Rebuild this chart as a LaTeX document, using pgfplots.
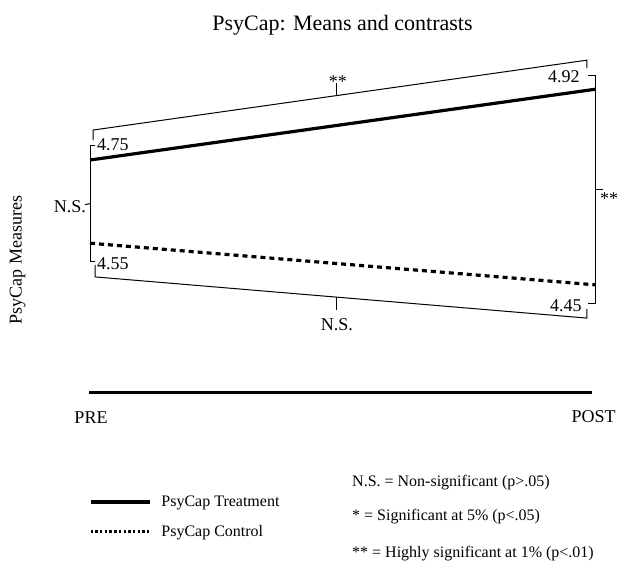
\documentclass[border=0pt]{standalone}
\usepackage{fontspec}
\setmainfont{Liberation Serif}
\usepackage{pgfplots}
\pgfplotsset{compat=1.18}
\newcommand\lab{\fontsize{18bp}{21bp}\selectfont}
\newcommand\leg{\fontsize{16bp}{19bp}\selectfont}
\newcommand\ttl{\fontsize{22bp}{26bp}\selectfont}
\begin{document}
\begin{tikzpicture}
\useasboundingbox (0,0) rectangle (618bp,-566bp);
\begin{axis}[
  at={(90bp,-409.6bp)}, anchor=south west,
  scale only axis, width=505bp, height=374.4bp,
  xmin=0, xmax=1, ymin=4.15, ymax=5.05,
  axis lines=none, clip=false,
  legend style={at={(axis description cs:-0.002,-0.2308)}, anchor=north west,
    draw=none, fill=none, inner sep=0pt, outer sep=0pt, row sep=17.5bp,
    font=\leg, nodes={inner sep=0pt},
    /tikz/every odd column/.append style={column sep=10bp}},
  legend cell align=left,
  br/.style={black, line width=1bp, forget plot},
]
% data
\addplot[black, line width=3.2bp,
  legend image code/.code={\draw[black, line width=3.4bp] (0bp,0bp) -- (59bp,0bp);}]
  coordinates {(0,4.75) (1,4.92)};
\addlegendentry{PsyCap Treatment}
\addplot[black, line width=3.2bp, dash pattern=on 5bp off 4bp,
  legend image code/.code={\draw[black, line width=3bp, dash pattern=on 2.4bp off 2.3bp] (0bp,0bp) -- (59bp,0bp);}]
  coordinates {(0,4.55) (1,4.45)};
\addlegendentry{PsyCap Control}
% x axis line
\addplot[black, line width=3bp, forget plot] coordinates {(-0.002,4.1923) (0.994,4.1923)};
% upper bracket
\addplot[br] coordinates {(0.006,4.798) (0.006,4.822) (0.984,4.990) (0.984,4.971)};
\addplot[br] coordinates {(0.489,4.905) (0.489,4.935)};
% lower bracket
\addplot[br] coordinates {(0.0099,4.498) (0.0099,4.469) (0.984,4.370) (0.984,4.392)};
\addplot[br] coordinates {(0.489,4.420) (0.489,4.389)};
% left vertical bracket
\addplot[br] coordinates {(0.0099,4.786) (0,4.786) (0,4.505) (0.0099,4.505)};
\addplot[br] coordinates {(0,4.645) (-0.0099,4.643)};
% right vertical bracket
\addplot[br] coordinates {(0.986,4.954) (1,4.954) (1,4.404) (0.986,4.404)};
\addplot[br] coordinates {(1,4.678) (1.0158,4.678)};
% value labels
\node[anchor=base west, inner sep=0pt, font=\lab] at (axis cs:0.0139,4.774) {4.75};
\node[anchor=base west, inner sep=0pt, font=\lab] at (axis cs:0.0139,4.486) {4.55};
\node[anchor=base east, inner sep=0pt, font=\lab] at (axis cs:0.970,4.936) {4.92};
\node[anchor=base east, inner sep=0pt, font=\lab] at (axis cs:0.974,4.385) {4.45};
% significance labels
\node[anchor=base, inner sep=0pt, font=\lab] at (axis cs:0.491,4.925) {**};
\node[anchor=base, inner sep=0pt, font=\lab] at (axis cs:0.489,4.341) {N.S.};
\node[anchor=east, inner sep=0pt, font=\lab] at (axis cs:-0.0079,4.639) {N.S.};
\node[anchor=base west, inner sep=0pt, font=\lab] at (axis cs:1.0099,4.644) {**};
\end{axis}
% title, axis label, categories
\node[anchor=base, inner sep=0pt, font=\ttl] at (342.5bp,-30bp) {PsyCap: Means and contrasts};
\node[rotate=90, inner sep=0pt, font=\lab] at (17.5bp,-260bp) {PsyCap Measures};
\node[anchor=base, inner sep=0pt, font=\lab] at (91bp,-423bp) {PRE};
\node[anchor=base, inner sep=0pt, font=\lab] at (593.5bp,-422.5bp) {POST};
% significance key
\node[anchor=base west, inner sep=0pt, font=\leg] at (352bp,-486bp) {N.S. = Non-significant (p>.05)};
\node[anchor=base west, inner sep=0pt, font=\leg] at (352bp,-520bp) {* = Significant at 5\% (p<.05)};
\node[anchor=base west, inner sep=0pt, font=\leg] at (352bp,-557bp) {** = Highly significant at 1\% (p<.01)};
\end{tikzpicture}
\end{document}
